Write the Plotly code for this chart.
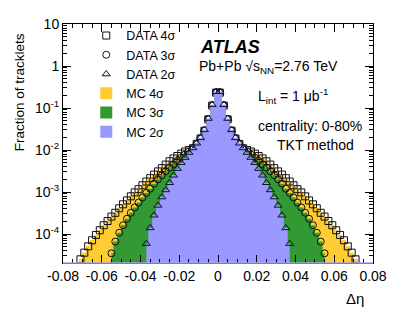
import plotly.graph_objects as go

# bin centres (delta eta), bin width 0.002
eta_2s = [-0.037, -0.035, -0.033, -0.031, -0.029, -0.027, -0.025, -0.023, -0.021, -0.019,
          -0.017, -0.015, -0.013, -0.011, -0.009, -0.007, -0.005, -0.003, -0.001,
          0.001, 0.003, 0.005, 0.007, 0.009, 0.011, 0.013, 0.015, 0.017, 0.019,
          0.021, 0.023, 0.025, 0.027, 0.029, 0.031, 0.033, 0.035, 0.037]
frac_2s = [0.000059, 0.00014, 0.00028, 0.00048, 0.00076, 0.00112, 0.00166, 0.0025, 0.0036, 0.0050,
           0.0066, 0.0087, 0.0112, 0.0145, 0.0195, 0.0302, 0.0562, 0.120, 0.245,
           0.245, 0.120, 0.0562, 0.0302, 0.0195, 0.0145, 0.0112, 0.0087, 0.0066, 0.0050,
           0.0036, 0.0025, 0.00166, 0.00112, 0.00076, 0.00048, 0.00028, 0.00014, 0.000059]

eta_3s = [-0.055, -0.053, -0.051, -0.049, -0.047, -0.045, -0.043, -0.041, -0.039, -0.037,
          -0.035, -0.033, -0.031, -0.029, -0.027, -0.025, -0.023, -0.021, -0.019, -0.017,
          -0.015, -0.013, -0.011, -0.009, -0.007, -0.005, -0.003, -0.001,
          0.001, 0.003, 0.005, 0.007, 0.009, 0.011, 0.013, 0.015, 0.017, 0.019,
          0.021, 0.023, 0.025, 0.027, 0.029, 0.031, 0.033, 0.035, 0.037, 0.039,
          0.041, 0.043, 0.045, 0.047, 0.049, 0.051, 0.053, 0.055]
frac_3s = [0.0000347, 0.000066, 0.000107, 0.000162, 0.00023, 0.00032, 0.00043, 0.00056, 0.00074, 0.00095,
           0.0012, 0.00158, 0.0020, 0.0025, 0.0031, 0.0038, 0.0046, 0.0055, 0.0066, 0.0078,
           0.0091, 0.0111, 0.0142, 0.0191, 0.0294, 0.0548, 0.117, 0.238,
           0.238, 0.117, 0.0548, 0.0294, 0.0191, 0.0142, 0.0111, 0.0091, 0.0078, 0.0066,
           0.0055, 0.0046, 0.0038, 0.0031, 0.0025, 0.0020, 0.00158, 0.0012, 0.00095, 0.00074,
           0.00056, 0.00043, 0.00032, 0.00023, 0.000162, 0.000107, 0.000066, 0.0000347]

eta_4s = [-0.071, -0.069, -0.067, -0.065, -0.063, -0.061, -0.059, -0.057, -0.055, -0.053,
          -0.051, -0.049, -0.047, -0.045, -0.043, -0.041, -0.039, -0.037, -0.035, -0.033,
          -0.031, -0.029, -0.027, -0.025, -0.023, -0.021, -0.019, -0.017, -0.015, -0.013,
          -0.011, -0.009, -0.007, -0.005, -0.003, -0.001,
          0.001, 0.003, 0.005, 0.007, 0.009, 0.011, 0.013, 0.015, 0.017, 0.019,
          0.021, 0.023, 0.025, 0.027, 0.029, 0.031, 0.033, 0.035, 0.037, 0.039,
          0.041, 0.043, 0.045, 0.047, 0.049, 0.051, 0.053, 0.055, 0.057, 0.059,
          0.061, 0.063, 0.065, 0.067, 0.069, 0.071]
frac_4s = [0.000025, 0.000036, 0.000051, 0.000071, 0.000095, 0.000123, 0.000162, 0.000204, 0.00026, 0.00032,
           0.00041, 0.00051, 0.00063, 0.00079, 0.00098, 0.00117, 0.00145, 0.00178, 0.00214, 0.0026,
           0.0031, 0.0037, 0.0045, 0.0054, 0.0063, 0.0072, 0.0082, 0.0092, 0.0100, 0.0110,
           0.0140, 0.0188, 0.0288, 0.0535, 0.114, 0.232,
           0.232, 0.114, 0.0535, 0.0288, 0.0188, 0.0140, 0.0110, 0.0100, 0.0092, 0.0082,
           0.0072, 0.0063, 0.0054, 0.0045, 0.0037, 0.0031, 0.0026, 0.00214, 0.00178, 0.00145,
           0.00117, 0.00098, 0.00079, 0.00063, 0.00051, 0.00041, 0.00032, 0.00026, 0.000204, 0.000162,
           0.000123, 0.000095, 0.000071, 0.000051, 0.000036, 0.000025]

# MC histograms follow the data points
mc_4s = frac_4s
mc_3s = frac_3s
mc_2s = frac_2s

y_tickvals = [1e-4, 1e-3, 1e-2, 1e-1, 1, 10]
y_ticktext = ["10<sup>-4</sup>", "10<sup>-3</sup>", "10<sup>-2</sup>", "10<sup>-1</sup>", "1", "10"]
x_tickvals = [-0.08, -0.06, -0.04, -0.02, 0, 0.02, 0.04, 0.06, 0.08]
x_ticktext = ["-0.08", "-0.06", "-0.04", "-0.02", "0", "0.02", "0.04", "0.06", "0.08"]

FONT = "Liberation Sans, Arial, Helvetica, sans-serif"
YELLOW = "#ffcc33"
GREEN = "#339933"
BLUE = "#9999ff"

fig = go.Figure()
bw = 0.002

# MC histograms as bars (these carry the legend boxes; always drawn under scatter layer)
fig.add_trace(go.Bar(x=eta_4s, y=mc_4s, width=bw, marker=dict(color=YELLOW, line=dict(width=0)),
                     name="MC 4σ", legendrank=4))
fig.add_trace(go.Bar(x=eta_3s, y=mc_3s, width=bw, marker=dict(color=GREEN, line=dict(width=0)),
                     name="MC 3σ", legendrank=5))
fig.add_trace(go.Bar(x=eta_2s, y=mc_2s, width=bw, marker=dict(color=BLUE, line=dict(width=0)),
                     name="MC 2σ", legendrank=6))


def mc_fill(x, y, color):
    return go.Scatter(x=x, y=y, mode="lines", line=dict(width=0, color=color, shape="hvh"),
                      fill="tozeroy", fillcolor=color, showlegend=False, hoverinfo="skip")


# same MC histograms again as fills, interleaved with the data so the drawing order is kept
fig.add_trace(mc_fill(eta_4s, mc_4s, YELLOW))
fig.add_trace(go.Scatter(x=eta_4s, y=frac_4s, mode="markers", name="DATA 4σ", legendrank=1,
                         marker=dict(symbol="square-open", size=7, color="#111111", line=dict(width=1))))
fig.add_trace(mc_fill(eta_3s, mc_3s, GREEN))
fig.add_trace(go.Scatter(x=eta_3s, y=frac_3s, mode="markers", name="DATA 3σ", legendrank=2,
                         marker=dict(symbol="circle-open", size=7, color="#111111", line=dict(width=1))))
fig.add_trace(mc_fill(eta_2s, mc_2s, BLUE))
fig.add_trace(go.Scatter(x=eta_2s, y=frac_2s, mode="markers", name="DATA 2σ", legendrank=3,
                         marker=dict(symbol="triangle-up-open", size=7, color="#111133", line=dict(width=1))))

# page body has an 8px margin, so the figure is sized to fit the remaining viewport
fig.update_layout(
    width=387, height=306,
    margin=dict(l=55, r=18, t=8, b=51),
    paper_bgcolor="white", plot_bgcolor="white",
    barmode="overlay", bargap=0,
    font=dict(family=FONT, size=14, color="black"),
    showlegend=True,
    legend=dict(x=0.075, y=1.013, xanchor="left", yanchor="top", bgcolor="rgba(0,0,0,0)",
                font=dict(size=12.5), tracegroupgap=0, traceorder="normal"),
    xaxis=dict(range=[-0.08, 0.08], tickvals=x_tickvals, ticktext=x_ticktext,
               ticks="inside", ticklen=8, tickcolor="black", showline=True, linecolor="black",
               linewidth=1, mirror="ticks", showgrid=False, zeroline=False,
               minor=dict(ticks="inside", ticklen=4, dtick=0.005, tickcolor="black", showgrid=False),
               tickfont=dict(size=14)),
    yaxis=dict(type="log", range=[-4.69, 1], tickvals=y_tickvals, ticktext=y_ticktext,
               ticks="inside", ticklen=8, tickcolor="black", showline=True, linecolor="black",
               linewidth=1, mirror="ticks", showgrid=False, zeroline=False,
               minor=dict(ticks="inside", ticklen=4, dtick="D1", tickcolor="black", showgrid=False),
               tickfont=dict(size=14)),
)

fig.add_shape(type="line", xref="paper", yref="paper", x0=0, x1=1, y0=0, y1=0,
              line=dict(color="#a8a8f0", width=1.5), layer="above")

ann = [
    dict(text="<b><i>ATLAS</i></b>", x=0.436, y=0.903, size=18),
    dict(text="Pb+Pb √s<sub>NN</sub>=2.76 TeV", x=0.433, y=0.818, size=14),
    dict(text="L<sub>int</sub> = 1 μb<sup>-1</sup>", x=0.621, y=0.70, size=14),
    dict(text="centrality: 0-80%", x=0.621, y=0.575, size=14),
    dict(text="TKT method", x=0.685, y=0.494, size=14),
]
for a in ann:
    fig.add_annotation(text=a["text"], x=a["x"], y=a["y"], xref="paper", yref="paper",
                       xanchor="left", yanchor="middle", showarrow=False,
                       font=dict(size=a["size"], family=FONT, color="black"))
fig.add_annotation(text="Δη", x=0.978, y=-0.15, xref="paper", yref="paper",
                   xanchor="right", yanchor="middle", showarrow=False, font=dict(size=15, family=FONT))
fig.add_annotation(text="Fraction of tracklets", x=-0.14, y=0.713, xref="paper", yref="paper",
                   xanchor="center", yanchor="middle", textangle=-90, showarrow=False,
                   font=dict(size=13.5, family=FONT))

fig.write_html("out.html")
